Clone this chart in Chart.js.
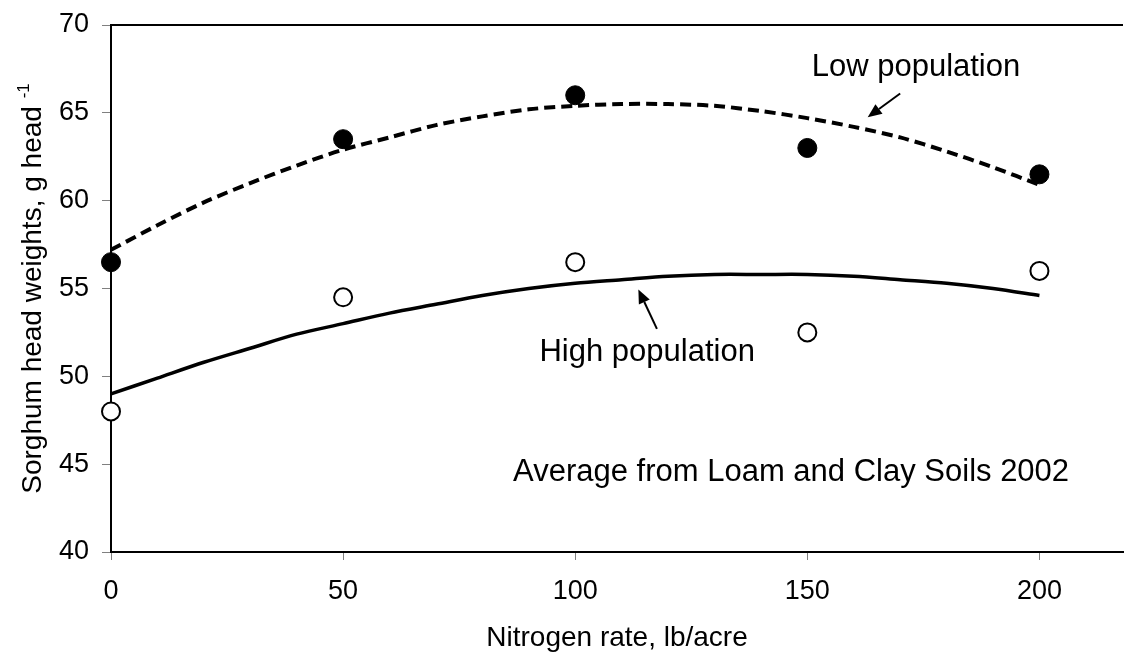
<!DOCTYPE html>
<html>
<head>
<meta charset="utf-8">
<script src="https://cdn.jsdelivr.net/npm/chart.js@4/dist/chart.umd.min.js"></script>
<style>
  html, body { margin: 0; padding: 0; background: #fff; }
  #wrap { width: 1134px; height: 655px; position: relative; }
</style>
</head>
<body>
<div id="wrap"><canvas id="c" width="1134" height="655"></canvas></div>
<script>
// Nitrogen rates (lb/acre) at which head weights were measured
const nitrogenRates = [0, 50, 100, 150, 200];
// Measured sorghum head weights, g/head
const lowPopWeights = [56.5, 63.5, 66.0, 63.0, 61.5];
const highPopWeights = [48.0, 54.5, 56.5, 52.5, 56.0];

// Fitted response curves
const trendRates = [0, 10, 20, 30, 40, 50, 60, 70, 80, 90, 100, 110, 120, 130, 140, 150, 160, 170, 180, 190, 200];
const lowTrend  = [57.2, 58.6, 59.9, 61.0, 62.0, 62.9, 63.6, 64.3, 64.8, 65.2, 65.4, 65.5, 65.5, 65.4, 65.1, 64.7, 64.2, 63.6, 62.8, 61.9, 60.9];
const highTrend = [49.0, 49.9, 50.8, 51.6, 52.4, 53.0, 53.6, 54.1, 54.6, 55.0, 55.3, 55.5, 55.7, 55.8, 55.8, 55.8, 55.7, 55.5, 55.3, 55.0, 54.6];

// Axis ticks
const xTickValues = [0, 50, 100, 150, 200];
const yTickValues = [40, 45, 50, 55, 60, 65, 70];

const FONT = "'Liberation Sans', Arial, sans-serif";

const toPoints = (xs, ys) => xs.map((x, i) => ({ x: x, y: ys[i] }));

// Open frame line along the top of the plot area
const topFrame = {
  id: 'topFrame',
  afterDraw(chart) {
    const { ctx, chartArea } = chart;
    ctx.save();
    ctx.strokeStyle = '#000';
    ctx.lineWidth = 2;
    ctx.beginPath();
    ctx.moveTo(chartArea.left, chartArea.top);
    ctx.lineTo(chartArea.right, chartArea.top);
    ctx.stroke();
    ctx.restore();
  }
};

// Vertical axis title with superscript unit
const yTitle = {
  id: 'yTitle',
  afterDraw(chart) {
    const { ctx, chartArea } = chart;
    const main = 'Sorghum head weights, g head ';
    const sup = '-1';
    ctx.save();
    ctx.fillStyle = '#000';
    ctx.translate(41, (chartArea.top + chartArea.bottom) / 2);
    ctx.rotate(-Math.PI / 2);
    ctx.font = '28px ' + FONT;
    const wMain = ctx.measureText(main).width;
    ctx.font = '17px ' + FONT;
    const wSup = ctx.measureText(sup).width;
    const start = -(wMain + wSup) / 2;
    ctx.textBaseline = 'alphabetic';
    ctx.textAlign = 'left';
    ctx.font = '28px ' + FONT;
    ctx.fillText(main, start, 0);
    ctx.font = '17px ' + FONT;
    ctx.fillText(sup, start + wMain, -12);
    ctx.restore();
  }
};

// Text labels and arrows placed in data coordinates
const notes = [
  { text: 'Low population', x: 173.4, y: 67.6 },
  { text: 'High population', x: 115.5, y: 51.35 },
  { text: 'Average from Loam and Clay Soils 2002', x: 146.5, y: 44.5 }
];
const arrows = [
  { x1: 170.0, y1: 66.1, x2: 163.0, y2: 64.75 },
  { x1: 117.6, y1: 52.7, x2: 113.6, y2: 54.95 }
];
const annotations = {
  id: 'annotations',
  afterDraw(chart) {
    const { ctx } = chart;
    const xs = chart.scales.x, ys = chart.scales.y;
    ctx.save();
    ctx.fillStyle = '#000';
    ctx.font = '31px ' + FONT;
    ctx.textAlign = 'center';
    ctx.textBaseline = 'middle';
    notes.forEach(n => ctx.fillText(n.text, xs.getPixelForValue(n.x), ys.getPixelForValue(n.y)));
    ctx.strokeStyle = '#000';
    ctx.lineWidth = 2;
    arrows.forEach(a => {
      const x1 = xs.getPixelForValue(a.x1), y1 = ys.getPixelForValue(a.y1);
      const x2 = xs.getPixelForValue(a.x2), y2 = ys.getPixelForValue(a.y2);
      const ang = Math.atan2(y2 - y1, x2 - x1);
      const head = 14, half = 6;
      const bx = x2 - head * Math.cos(ang), by = y2 - head * Math.sin(ang);
      ctx.beginPath();
      ctx.moveTo(x1, y1);
      ctx.lineTo(bx, by);
      ctx.stroke();
      ctx.beginPath();
      ctx.moveTo(x2, y2);
      ctx.lineTo(bx + half * Math.sin(ang), by - half * Math.cos(ang));
      ctx.lineTo(bx - half * Math.sin(ang), by + half * Math.cos(ang));
      ctx.closePath();
      ctx.fill();
    });
    ctx.restore();
  }
};

new Chart(document.getElementById('c'), {
  type: 'scatter',
  data: {
    datasets: [
      {
        label: 'Low population fit',
        data: toPoints(trendRates, lowTrend),
        showLine: true,
        borderColor: '#000',
        borderWidth: 4,
        borderDash: [11, 6],
        pointRadius: 0,
        tension: 0.3,
        clip: false,
        order: 2
      },
      {
        label: 'High population fit',
        data: toPoints(trendRates, highTrend),
        showLine: true,
        borderColor: '#000',
        borderWidth: 3.5,
        pointRadius: 0,
        tension: 0.3,
        clip: false,
        order: 2
      },
      {
        label: 'Low population',
        data: toPoints(nitrogenRates, lowPopWeights),
        pointRadius: 9.5,
        pointBackgroundColor: '#000',
        pointBorderColor: '#000',
        pointBorderWidth: 1,
        clip: false,
        order: 1
      },
      {
        label: 'High population',
        data: toPoints(nitrogenRates, highPopWeights),
        pointRadius: 9,
        pointBackgroundColor: '#fff',
        pointBorderColor: '#000',
        pointBorderWidth: 2,
        clip: false,
        order: 1
      }
    ]
  },
  options: {
    responsive: false,
    animation: false,
    events: [],
    layout: { padding: { top: 25, right: 0, left: 0, bottom: 0 } },
    plugins: {
      legend: { display: false },
      tooltip: { enabled: false }
    },
    scales: {
      x: {
        type: 'linear',
        min: 0,
        max: 218,
        afterBuildTicks: s => { s.ticks = xTickValues.map(v => ({ value: v })); },
        afterFit: s => { s.height = 103; s.paddingLeft = 0; s.paddingRight = 0; },
        border: { color: '#000', width: 2 },
        grid: { drawOnChartArea: false, drawTicks: true, tickLength: 8, tickColor: '#808080', tickWidth: 1 },
        ticks: { color: '#000', font: { family: FONT, size: 27 }, padding: 15, maxRotation: 0 },
        title: {
          display: true,
          text: 'Nitrogen rate, lb/acre',
          color: '#000',
          font: { family: FONT, size: 28 },
          padding: { top: 12, bottom: 0 }
        }
      },
      y: {
        type: 'linear',
        min: 40,
        max: 70,
        afterBuildTicks: s => { s.ticks = yTickValues.map(v => ({ value: v })); },
        afterFit: s => { s.width = 111; s.paddingTop = 0; s.paddingBottom = 0; },
        border: { color: '#000', width: 2 },
        grid: { drawOnChartArea: false, drawTicks: true, tickLength: 9, tickColor: '#808080', tickWidth: 1 },
        ticks: { color: '#000', font: { family: FONT, size: 27 }, padding: 13 }
      }
    }
  },
  plugins: [topFrame, yTitle, annotations]
});
</script>
</body>
</html>
